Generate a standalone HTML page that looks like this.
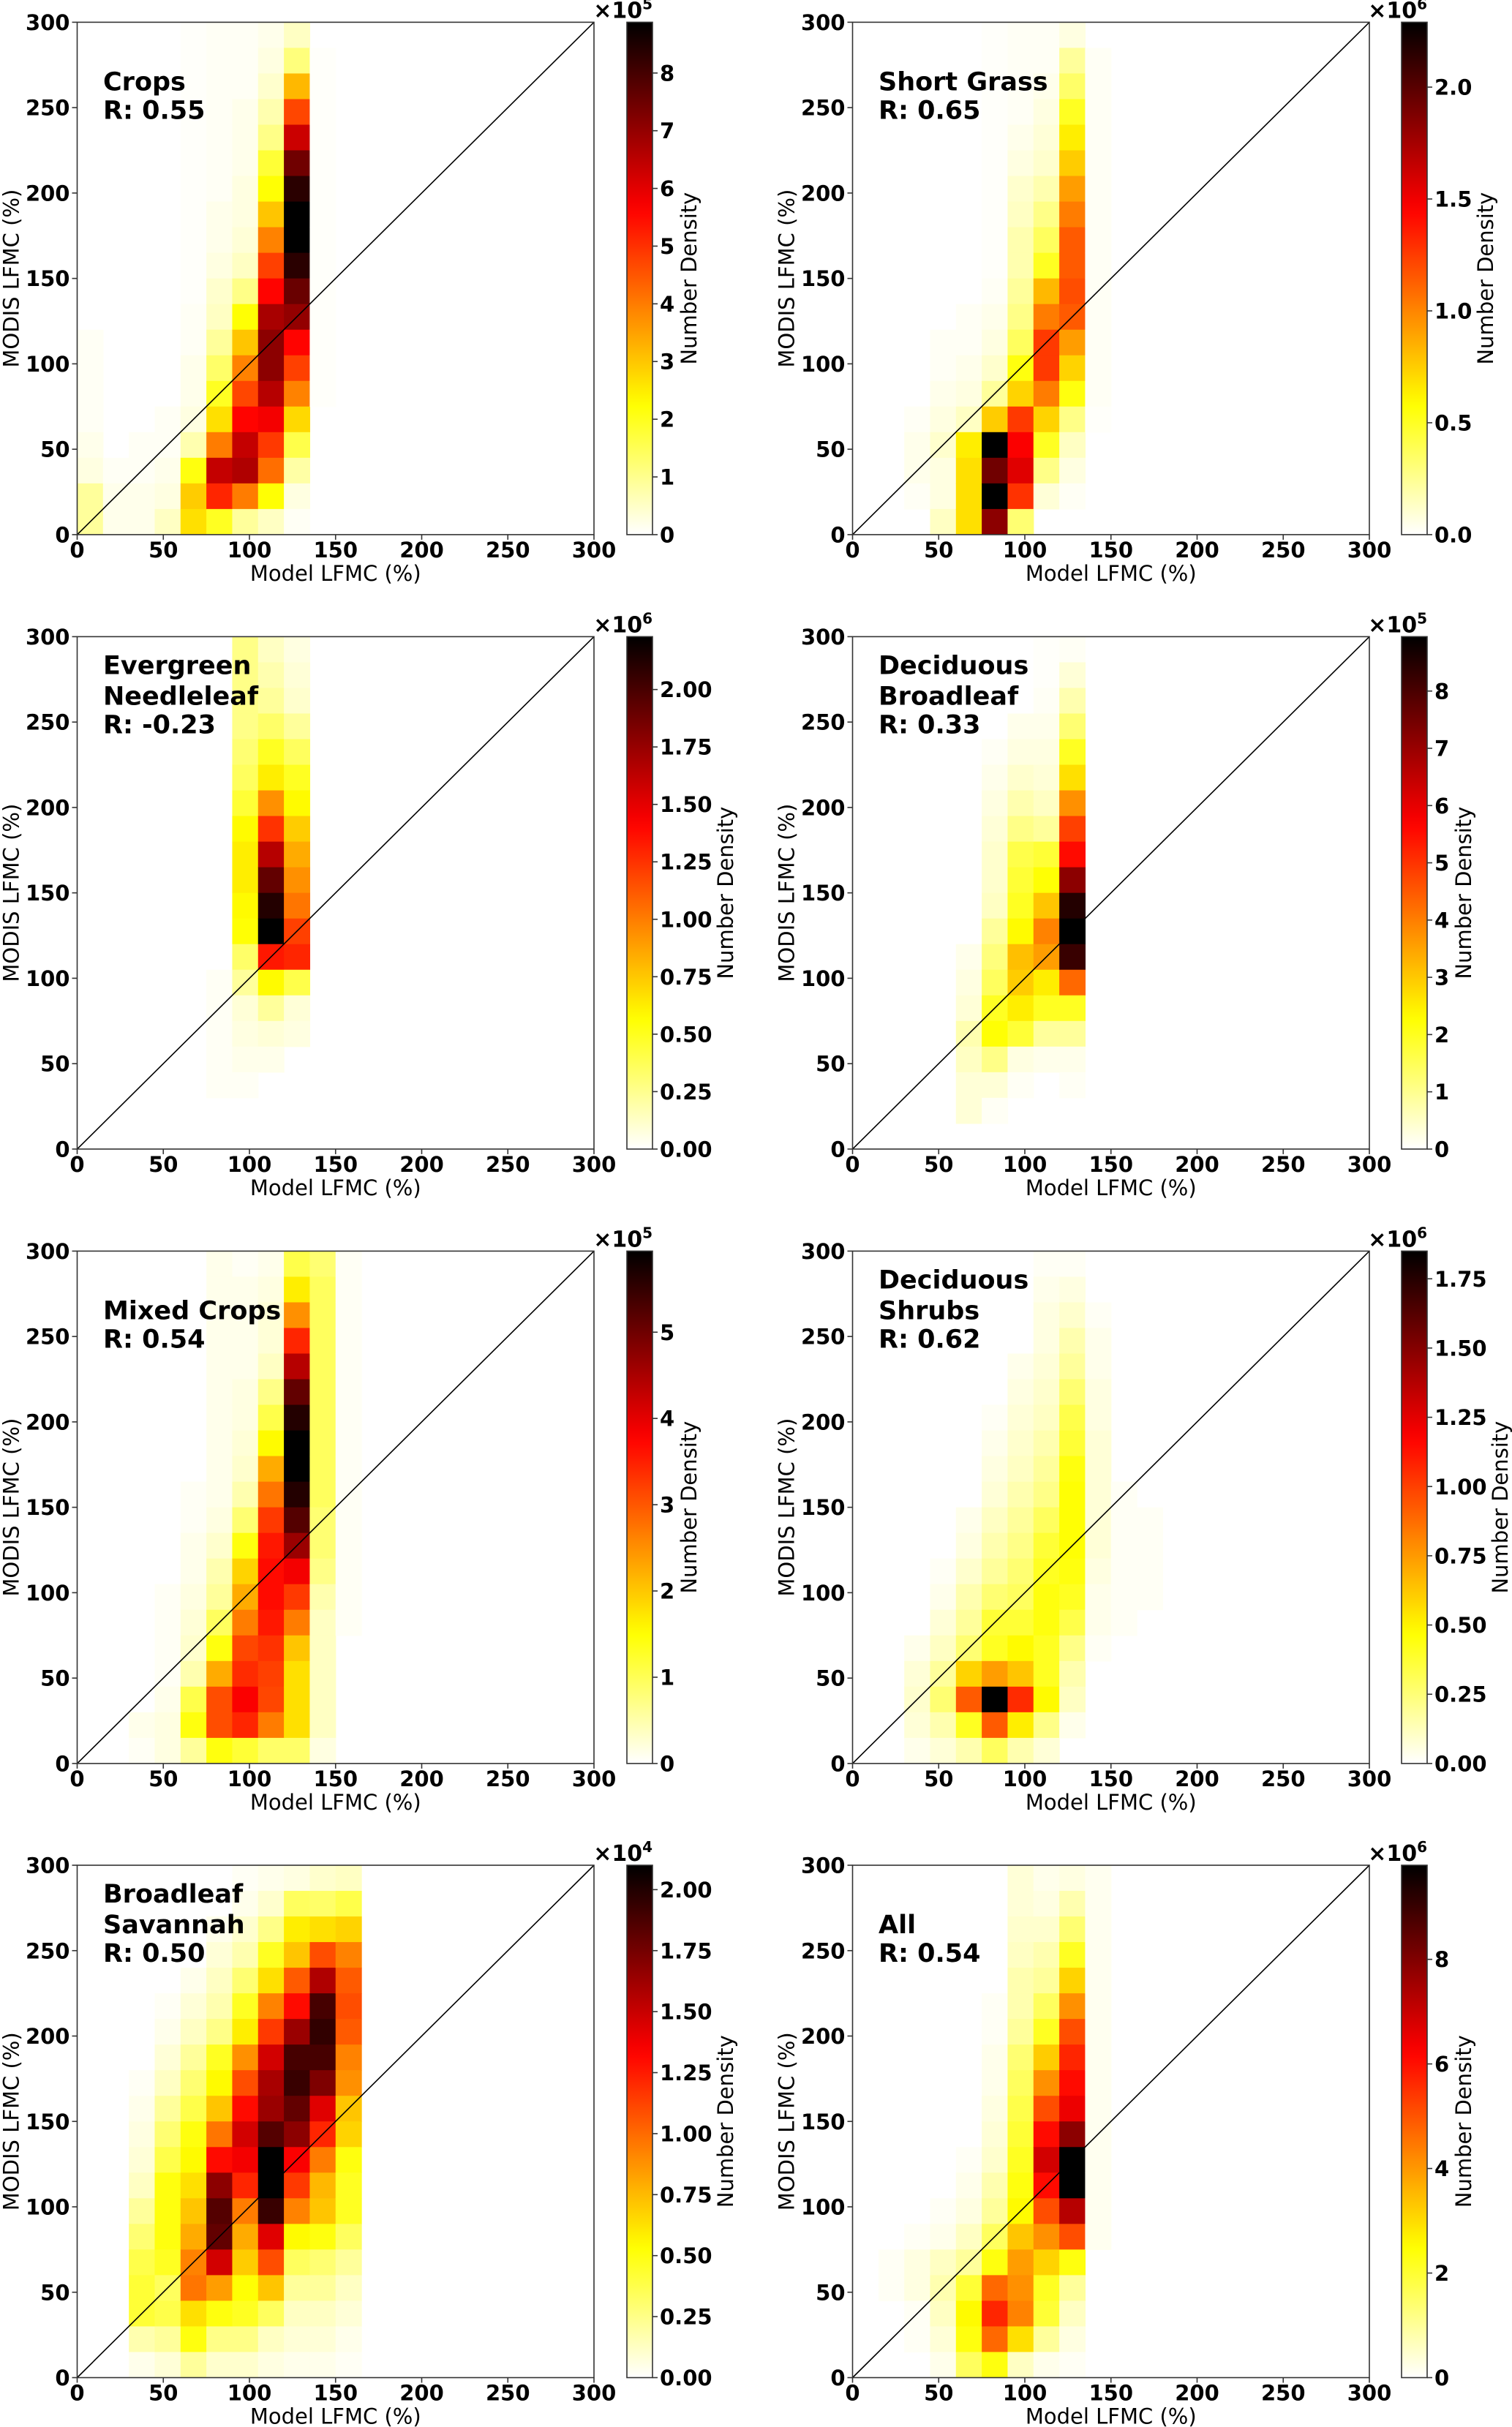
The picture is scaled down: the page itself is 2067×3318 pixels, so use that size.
<!DOCTYPE html>
<html><head><meta charset="utf-8"><title>LFMC density</title>
<style>
html,body{margin:0;padding:0;background:#fff;}
svg{display:block;font-family:"DejaVu Sans","Liberation Sans",sans-serif;}
</style></head>
<body>
<svg id="fig" width="2067" height="3318" viewBox="0 0 2067 3318" xmlns="http://www.w3.org/2000/svg"></svg>
<script>
// ---- data: each column = 20 bins (15% wide), listed from MODIS 285-300 (top) down to 0-15 (bottom); values = % of colour max
const cropsCols = [
 [0,0,0,0,0,0,0,0,0,0,0,0,1,1,1,1,2,3,10,10],
 [0,0,0,0,0,0,0,0,0,0,0,0,0,0,0,0,0,1,2,2],
 [0,0,0,0,0,0,0,0,0,0,0,0,0,0,0,0,1,1,2,2],
 [0,0,0,0,0,0,0,0,0,0,0,0,0,0,0,1,1,2,3,6],
 [0.5,0.5,0.5,0.5,0.5,0.5,0.5,0.5,0.5,0.5,0.5,1,1,2,2,3,8,24,33,30],
 [1,1,1,1,1,1,1,2,2,3,5,6,10,15,22,30,45,72,58,22],
 [1,1,1,2,2,2,3,3,4,6,12,25,34,44,53,63,72,75,45,10],
 [2,3,5,8,12,20,25,34,44,54,63,76,80,80,74,65,55,47,25,6],
 [6,13,36,53,71,84,94,100,100,94,85,79,63,54,44,31,18,9,3,1],
 [0,0.5,0.5,0.5,0.5,0.5,0.5,0.5,0.5,0.5,0.5,0.5,0.5,0.5,0.5,0,0,0,0,0]
];
const cropsVmax = 8.88;
const cropsTicks = [0,1,2,3,4,5,6,7,8];
const cropsTickLabels = ["0","1","2","3","4","5","6","7","8"];

const grassCols = [
 [0,0,0,0,0,0,0,0,0,0,0,0,0,0,0,0,0,0,0,0],
 [0,0,0,0,0,0,0,0,0,0,0,0,0,0,0,0,0,0,0,0],
 [0,0,0,0,0,0,0,0,0,0,0,0,0,0,0,1,2,2,1,0],
 [0,0,0,0,0,0,0,0,0,0,0,0,1,1,2,3,5,3,3,6],
 [0,0,0,0,0,0,0,0,0,0,0,1,1,2,3,6,28,30,30,30],
 [0.5,0.5,0.5,0.5,0.5,0.5,0.5,0.5,0.5,0.5,1,2,3,5,10,33,100,84,100,80],
 [1,1,1,1,2,3,5,6,8,8,10,12,16,24,32,55,64,68,56,14],
 [1,1,2,3,4,5,8,12,16,22,36,45,55,55,45,32,22,12,4,0],
 [3,10,15,22,28,33,40,45,50,50,52,50,40,32,24,12,6,3,1,0],
 [0,1,1,1,1,1,1,1,1,1,1,1,1,1,1,0.5,0,0,0,0]
];
const grassVmax = 2.29;
const grassTicks = [0,0.5,1.0,1.5,2.0];
const grassTickLabels = ["0.0","0.5","1.0","1.5","2.0"];

const needleCols = [
 [0,0,0,0,0,0,0,0,0,0,0,0,0,0,0,0,0,0,0,0],
 [0,0,0,0,0,0,0,0,0,0,0,0,0,0,0,0,0,0,0,0],
 [0,0,0,0,0,0,0,0,0,0,0,0,0,0,0,0,0,0,0,0],
 [0,0,0,0,0,0,0,0,0,0,0,0,0,0,0,0,0,0,0,0],
 [0,0,0,0,0,0,0,0,0,0,0,0,0,0,0,0,0,0,0,0],
 [0,0,0,0,0,0,0,0,0,0,0,0,0,1,1,1,1,1,0,0],
 [12,12,12,12,14,16,20,26,28,28,26,25,15,10,4,3,2,1,0,0],
 [6,8,10,15,22,28,42,56,74,86,95,100,60,26,10,4,2,0,0,0],
 [3,4,5,10,16,22,26,33,38,42,46,54,58,18,4,3,0,0,0,0]
];
const needleVmax = 2.23;
const needleTicks = [0,0.25,0.5,0.75,1.0,1.25,1.5,1.75,2.0];
const needleTickLabels = ["0.00","0.25","0.50","0.75","1.00","1.25","1.50","1.75","2.00"];

const broadCols = [
 [0,0,0,0,0,0,0,0,0,0,0,0,0,0,0,0,0,0,0,0],
 [0,0,0,0,0,0,0,0,0,0,0,0,0,0,0,0,0,0,0,0],
 [0,0,0,0,0,0,0,0,0,0,0,0,0,0,0,0,0,0,0,0],
 [0,0,0,0,0,0,0,0,0,0,0,0,0,0,0,0,0,0,0,0],
 [0,0,0,0,0,0,0,0,0,0,0,0,2,3,4,8,6,4,4,0],
 [0,0,0,0,1,2,3,4,5,5,6,10,13,16,22,25,12,4,1,0],
 [0,0,0,2,3,5,8,12,18,20,22,26,35,33,28,20,3,1,0,0],
 [0.5,0.5,1,2,3,4,6,10,20,25,34,44,40,28,22,10,2,0,0,0],
 [1,4,8,14,22,30,42,54,62,80,95,100,92,48,22,10,2,1,0,0]
];
const broadVmax = 8.95;
const broadTicks = [0,1,2,3,4,5,6,7,8];
const broadTickLabels = ["0","1","2","3","4","5","6","7","8"];

const mixedCols = [
 [0,0,0,0,0,0,0,0,0,0,0,0,0,0,0,0,0,0,0,0],
 [0,0,0,0,0,0,0,0,0,0,0,0,0,0,0,0,0,0,0,0],
 [0,0,0,0,0,0,0,0,0,0,0,0,0,0,0,0,0,0,2,1],
 [0,0,0,0,0,0,0,0,0,0,0,0,0,1,1,1,1,2,3,3],
 [0,0,0,0,0,0,0,0,0,1,1,2,2,3,4,5,8,18,24,10],
 [2,2,2,2,2,2,2,2,2,2,3,5,8,10,16,24,38,52,52,24],
 [1,2,2,2,2,3,3,4,5,8,14,24,32,38,45,53,57,64,58,20],
 [2,3,4,4,6,12,18,26,38,46,55,60,62,62,60,56,54,53,45,15],
 [18,28,42,58,74,86,95,100,100,95,88,78,65,55,45,34,30,30,30,15],
 [14,16,16,16,16,16,16,16,16,16,14,14,12,8,6,6,6,6,6,3],
 [1,1,1,1,1,1,1,1,1,1,1,1,1,1,1,0,0,0,0,0]
];
const mixedVmax = 5.94;
const mixedTicks = [0,1,2,3,4,5];
const mixedTickLabels = ["0","1","2","3","4","5"];

const shrubCols = [
 [0,0,0,0,0,0,0,0,0,0,0,0,0,0,0,0,0,0,0,0],
 [0,0,0,0,0,0,0,0,0,0,0,0,0,0,0,0,0,0,0,0],
 [0,0,0,0,0,0,0,0,0,0,0,0,0,0,0,2,4,5,4,2],
 [0,0,0,0,0,0,0,0,0,0,0,0,1,2,4,6,10,14,8,4],
 [0,0,0,0,0,0,0,0,0,0,2,3,5,8,10,14,32,50,22,8],
 [0,0,0,0,0,0,1,2,3,4,6,8,10,14,20,22,40,100,50,16],
 [0,0,0,0,2,3,4,5,6,8,10,12,14,16,20,26,34,57,28,8],
 [1,2,3,3,4,5,6,8,10,12,16,20,22,24,24,22,22,26,12,4],
 [1,3,5,8,10,14,18,20,24,25,25,25,24,22,18,12,8,6,2,0],
 [0,0,1,2,2,3,3,4,4,4,4,4,3,2,2,1,0,0,0,0],
 [0,0,0,0,0,0,0,0,0,1,1,1,1,1,1,0,0,0,0,0],
 [0,0,0,0,0,0,0,0,0,0,1,1,1,1,0,0,0,0,0,0]
];
const shrubVmax = 1.85;
const shrubTicks = [0,0.25,0.5,0.75,1.0,1.25,1.5,1.75];
const shrubTickLabels = ["0.00","0.25","0.50","0.75","1.00","1.25","1.50","1.75"];

const savCols = [
 [0,0,0,0,0,0,0,0,0,0,0,0,0,0,0,0,0,0,0,0],
 [0,0,0,0,0,0,0,0,0,0,0,0,0,0,0,0,0,0,0,0],
 [0,0,0,0,0,0,0,0,1,2,3,4,6,10,14,18,20,20,8,2],
 [0,0,0,0,0,1,2,4,6,10,14,18,24,24,24,22,16,18,10,4],
 [0,0,0,0,2,4,6,10,14,18,24,26,30,34,38,44,46,30,24,10],
 [0,0,2,4,6,8,12,22,26,34,46,62,80,88,86,70,40,24,12,5],
 [1,2,5,8,14,22,28,42,52,62,70,65,58,45,38,33,25,22,12,5],
 [2,5,12,22,30,44,55,70,76,78,88,100,100,92,68,52,34,16,6,3],
 [3,16,28,34,50,62,78,90,92,86,80,64,55,44,26,16,10,6,4,2],
 [5,15,30,52,75,90,93,90,82,68,58,45,36,34,24,14,10,6,4,2],
 [6,18,32,44,50,52,50,44,42,34,32,24,22,22,16,10,6,4,2,1]
];
const savVmax = 2.10;
const savTicks = [0,0.25,0.5,0.75,1.0,1.25,1.5,1.75,2.0];
const savTickLabels = ["0.00","0.25","0.50","0.75","1.00","1.25","1.50","1.75","2.00"];

const allCols = [
 [0,0,0,0,0,0,0,0,0,0,0,0,0,0,0,0,0,0,0,0],
 [0,0,0,0,0,0,0,0,0,0,0,0,0,0,0,1,1,0,0,0],
 [0,0,0,0,0,0,0,0,0,0,0,0,0,0,1,3,3,1,1,0],
 [0,0,0,0,0,0,0,0,0,0,0,0,0,1,2,6,8,6,4,2],
 [0,0,0,0,0,0,0,0,0,0,0,1,2,3,6,10,20,26,24,16],
 [0,0,0,0,0,1,1,2,2,3,4,5,8,10,16,24,48,58,48,24],
 [4,4,5,6,8,8,10,14,16,18,20,22,24,26,34,40,42,44,30,6],
 [2,3,5,8,10,16,22,33,42,52,62,70,62,52,42,32,22,20,10,2],
 [3,8,14,22,32,42,52,58,62,66,80,100,100,74,52,24,10,6,3,1],
 [1.5,1.5,1.5,1.5,1.5,1.5,1.5,1.5,1.5,1.5,1.5,1.5,1.5,1.5,1.5,0,0,0,0,0]
];
const allVmax = 9.8;
const allTicks = [0,2,4,6,8];
const allTickLabels = ["0","2","4","6","8"];

const axisTicks = [0,50,100,150,200,250,300];
const BIN = 15;

// ---- layout
const AX_W = 706.5, AX_H = 700.5, CB_W = 35;
const colX = [105.5, 1165.5];
const cbX = [857, 1916];
const rowY = [30.4, 870.4, 1710.4, 2550];

const panels = [
 {id:'crops', lines:['Crops','R: 0.55'], cols:cropsCols, vmax:cropsVmax, ticks:cropsTicks, labels:cropsTickLabels, exp:'5', c:0, r:0, lab:60},
 {id:'short-grass', lines:['Short Grass','R: 0.65'], cols:grassCols, vmax:grassVmax, ticks:grassTicks, labels:grassTickLabels, exp:'6', c:1, r:0, lab:90},
 {id:'evergreen-needleleaf', lines:['Evergreen','Needleleaf','R: -0.23'], cols:needleCols, vmax:needleVmax, ticks:needleTicks, labels:needleTickLabels, exp:'6', c:0, r:1, lab:110},
 {id:'deciduous-broadleaf', lines:['Deciduous','Broadleaf','R: 0.33'], cols:broadCols, vmax:broadVmax, ticks:broadTicks, labels:broadTickLabels, exp:'5', c:1, r:1, lab:60},
 {id:'mixed-crops', lines:['Mixed Crops','R: 0.54'], cols:mixedCols, vmax:mixedVmax, ticks:mixedTicks, labels:mixedTickLabels, exp:'5', c:0, r:2, lab:60},
 {id:'deciduous-shrubs', lines:['Deciduous','Shrubs','R: 0.62'], cols:shrubCols, vmax:shrubVmax, ticks:shrubTicks, labels:shrubTickLabels, exp:'6', c:1, r:2, lab:110},
 {id:'broadleaf-savannah', lines:['Broadleaf','Savannah','R: 0.50'], cols:savCols, vmax:savVmax, ticks:savTicks, labels:savTickLabels, exp:'4', c:0, r:3, lab:110},
 {id:'all', lines:['All','R: 0.54'], cols:allCols, vmax:allVmax, ticks:allTicks, labels:allTickLabels, exp:'6', c:1, r:3, lab:60}
];

const NS = 'http://www.w3.org/2000/svg';
const svg = document.getElementById('fig');
function mk(tag, attrs, parent){
  const e = document.createElementNS(NS, tag);
  for (const k in attrs) e.setAttribute(k, attrs[k]);
  (parent||svg).appendChild(e);
  return e;
}
function hotR(t){
  t = Math.max(0, Math.min(1, t));
  const x = 1 - t;
  const r = Math.min(1, x/0.365079);
  const g = Math.max(0, Math.min(1, (x-0.365079)/0.380953));
  const b = Math.max(0, Math.min(1, (x-0.746032)/0.253968));
  return 'rgb(' + Math.round(r*255) + ',' + Math.round(g*255) + ',' + Math.round(b*255) + ')';
}

// colour bar gradient
const defs = mk('defs', {});
const grad = mk('linearGradient', {id:'hotr', x1:'0', y1:'1', x2:'0', y2:'0'}, defs);
for (let i = 0; i <= 40; i++) {
  mk('stop', {offset:(i/40).toFixed(3), 'stop-color':hotR(i/40)}, grad);
}

panels.forEach(p => {
  const L = colX[p.c], T = rowY[p.r], R = L + AX_W, B = T + AX_H;
  const xs = v => L + v/300*AX_W;
  const ys = v => B - v/300*AX_H;
  const g = mk('g', {});
  
  

  // heatmap cells
  const hm = mk('g', {}, g);
  
  
  p.cols.forEach((col, ci) => {
    col.forEach((pct, k) => {
      if (pct <= 0) return;
      const j = col.length - 1 - k;
      const x0 = xs(ci*BIN), x1 = xs((ci+1)*BIN);
      const y0 = ys((j+1)*BIN), y1 = ys(j*BIN);
      const val = pct/100*p.vmax;
      const c = mk('rect', {x:x0.toFixed(2), y:y0.toFixed(2), width:(x1-x0+0.6).toFixed(2), height:(y1-y0+0.6).toFixed(2), fill:hotR(val/p.vmax)}, hm);
      
      
    });
  });

  // one-to-one line
  const d = mk('line', {x1:xs(0), y1:ys(0), x2:xs(300), y2:ys(300), stroke:'#000', 'stroke-width':1.6}, g);
  
  

  // frame
  const fr = mk('rect', {x:L, y:T, width:AX_W, height:AX_H, fill:'none', stroke:'#333', 'stroke-width':1.6}, g);
  
  

  // ticks
  axisTicks.forEach(v => {
    mk('line', {x1:xs(v), x2:xs(v), y1:B, y2:B+7, stroke:'#333', 'stroke-width':1.6}, g);
    const tx = mk('text', {x:xs(v), y:B+31, 'text-anchor':'middle', 'font-size':29, 'font-weight':'bold'}, g);
    tx.textContent = v;
    
    
    mk('line', {x1:L-7, x2:L, y1:ys(v), y2:ys(v), stroke:'#333', 'stroke-width':1.6}, g);
    const ty = mk('text', {x:L-10, y:ys(v)+10.5, 'text-anchor':'end', 'font-size':29, 'font-weight':'bold'}, g);
    ty.textContent = v;
    
    
  });

  const xl = mk('text', {x:L+AX_W/2, y:B+63, 'text-anchor':'middle', 'font-size':29}, g);
  xl.textContent = 'Model LFMC (%)';
  
  
  const yl = mk('text', {x:0, y:0, 'text-anchor':'middle', 'font-size':29, transform:'translate(' + (L-80) + ',' + (T+AX_H/2) + ') rotate(-90)'}, g);
  yl.textContent = 'MODIS LFMC (%)';
  
  

  // annotation
  const n = p.lines.length;
  const base = n === 3 ? [51, 93, 132] : [93, 132];
  p.lines.forEach((s, i) => {
    const t = mk('text', {x:L+35.5, y:T+base[i], 'font-size':35, 'font-weight':'bold'}, g);
    t.textContent = s;
    
    
  });

  // colour bar
  const cL = cbX[p.c], cR = cL + CB_W;
  const cb = mk('rect', {x:cL, y:T, width:CB_W, height:AX_H, fill:'url(#hotr)', stroke:'#333', 'stroke-width':1.6}, g);
  
  
  p.ticks.forEach((v, i) => {
    const y = B - v/p.vmax*AX_H;
    mk('line', {x1:cR, x2:cR+7, y1:y, y2:y, stroke:'#333', 'stroke-width':1.6}, g);
    const t = mk('text', {x:cR+10, y:y+10.5, 'font-size':29, 'font-weight':'bold'}, g);
    t.textContent = p.labels[i];
    
    
  });
  const ex = mk('text', {x:cR, y:T-6, 'text-anchor':'end', 'font-size':30, 'font-weight':'bold'}, g);
  
  
  const t1 = mk('tspan', {}, ex); t1.textContent = '\u00d710';
  const t2 = mk('tspan', {dy:-12, 'font-size':20}, ex); t2.textContent = p.exp;
  const cl = mk('text', {x:0, y:0, 'text-anchor':'middle', 'font-size':29, transform:'translate(' + (cR+p.lab) + ',' + (T+AX_H/2) + ') rotate(-90)'}, g);
  cl.textContent = 'Number Density';
  
  
});
</script>
</body></html>
